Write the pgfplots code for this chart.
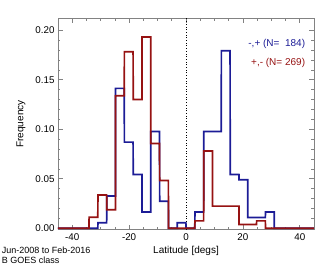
\documentclass[border=0pt]{standalone}
\usepackage{pgfplots}
\pgfplotsset{compat=1.18}
\usepackage{fontspec}
\setmainfont{Liberation Sans}
\definecolor{hblue}{RGB}{28,28,150}
\definecolor{hred}{RGB}{150,18,18}
\definecolor{axgray}{RGB}{130,130,130}
\begin{document}
\begin{tikzpicture}
\path[use as bounding box] (-58pt,-36.3pt) rectangle (274pt,229.7pt);
\begin{axis}[
  at={(0pt,0pt)}, anchor=south west,
  scale only axis, width=256pt, height=211.4pt,
  xmin=-45, xmax=45, ymin=-0.0015, ymax=0.2121,
  xtick={-40,-20,0,20,40}, minor x tick num=3,
  ytick={0,0.05,0.1,0.15,0.2}, minor y tick num=4,
  tick align=inside,
  major tick length=5pt, minor tick length=2.5pt,
  axis line style={axgray, line width=0.6pt},
  every tick/.style={axgray, line width=0.6pt},
  tick label style={font=\fontsize{9.8}{10}\selectfont, black},
  /pgf/number format/assume math mode=true,
  yticklabel style={/pgf/number format/fixed, /pgf/number format/fixed zerofill, /pgf/number format/precision=2},
  label style={font=\fontsize{10.5}{11}\selectfont},
  xlabel={Latitude [degs]},
  ylabel={Frequency},
  every axis x label/.style={at={(axis description cs:0.5,-0.101)}, anchor=center},
  every axis y label/.style={at={(axis description cs:-0.1445,0.5)}, rotate=90, anchor=center},
  clip=false,
]
\addplot[black, dotted, line width=0.7pt] coordinates {(0,-0.0015) (0,0.2121)};
\addplot[draw=hblue, line width=1.7pt, sharp plot, no markers, line join=miter] coordinates {
(-45,0) (-31,0) (-30.96,0.00543) (-27.9,0.00543) (-27.86,0.0326) (-24.8,0.0326)
(-24.76,0.1413) (-21.7,0.1413) (-21.66,0.0870) (-18.6,0.0870) (-18.56,0.0543) (-15.5,0.0543)
(-15.46,0.0163) (-12.4,0.0163) (-12.36,0.0978) (-9.3,0.0978) (-9.26,0.0272) (-6.2,0.0272)
(-6.16,0) (-3.1,0) (-3.06,0.00543) (-0.04,0.00543) (0,0) (3.1,0)
(3.14,0.0163) (6.2,0.0163) (6.24,0.0978) (12.4,0.0978) (12.44,0.1793) (15.5,0.1793)
(15.54,0.0543) (18.6,0.0543) (18.64,0.0489) (21.7,0.0489) (21.74,0.0109) (27.9,0.0109)
(27.94,0.0163) (31,0.0163) (31.04,0) (45,0)};
\addplot[draw=hred, line width=1.7pt, sharp plot, no markers, line join=miter] coordinates {
(-45,0) (-34.1,0) (-34.06,0.01115) (-31,0.01115) (-30.96,0.0335) (-27.9,0.0335)
(-27.86,0.0186) (-24.8,0.0186) (-24.76,0.1338) (-21.7,0.1338) (-21.66,0.1784) (-18.6,0.1784)
(-18.56,0.1301) (-15.5,0.1301) (-15.46,0.1933) (-12.4,0.1933) (-12.36,0.0855) (-9.3,0.0855)
(-9.26,0.0483) (-6.2,0.0483) (-6.16,0) (3.1,0) (3.14,0.00743) (6.2,0.00743)
(6.24,0.0781) (9.3,0.0781) (9.34,0.0223) (18.6,0.0223) (18.64,0.0037) (24.8,0.0037)
(24.84,0.0074) (27.9,0.0074) (27.94,0) (45,0)};
\end{axis}
\node[anchor=east, hblue, font=\fontsize{10}{11}\selectfont, inner sep=0pt] at (247.3pt,185.4pt) {-,+ (N=\ \ 184)};
\node[anchor=east, hred, font=\fontsize{10}{11}\selectfont, inner sep=0pt] at (247.3pt,166.4pt) {+,- (N= 269)};
\node[anchor=west, font=\fontsize{9}{10}\selectfont, inner sep=0pt] at (-56.3pt,-21pt) {Jun-2008 to Feb-2016};
\node[anchor=west, font=\fontsize{9}{10}\selectfont, inner sep=0pt] at (-56.3pt,-30.6pt) {B GOES class};
\end{tikzpicture}
\end{document}
